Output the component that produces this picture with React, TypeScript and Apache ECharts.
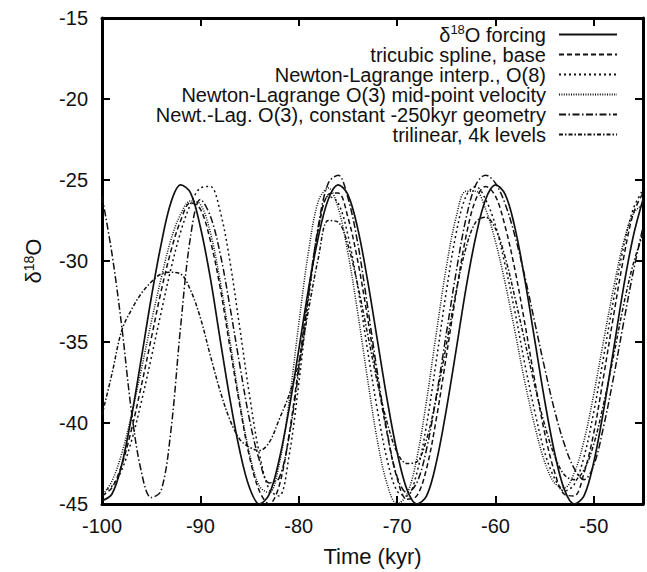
import React, { useEffect, useRef } from "react";
import * as echarts from "echarts";

const time = [
  -100, -99, -98, -97, -96, -95, -94, -93, -92, -91, -90, -89, -88, -87, -86, -85, -84, -83, -82, -81,
  -80, -79, -78, -77, -76, -75, -74, -73, -72, -71, -70, -69, -68, -67, -66, -65, -64, -63, -62, -61,
  -60, -59, -58, -57, -56, -55, -54, -53, -52, -51, -50, -49, -48, -47, -46, -45,
];

const forcing = [
  -44.8, -44.4, -42.6, -39.6, -36.0, -32.3, -29.0, -26.4, -25.3, -25.8, -27.9, -31.0, -34.8, -38.5, -41.7, -44.0, -45.0, -44.4, -42.3, -39.2,
  -35.5, -31.7, -28.5, -26.2, -25.3, -25.9, -28.0, -31.2, -34.9, -38.6, -41.8, -44.1, -45.0, -44.5, -42.4, -39.2, -35.5, -31.7, -28.5, -26.2,
  -25.3, -25.9, -28.0, -31.2, -34.9, -38.6, -41.8, -44.1, -45.0, -44.5, -42.4, -39.2, -35.5, -31.7, -28.5, -26.2,
];

const tricubic = [
  -44.5, -44.0, -42.6, -40.4, -37.7, -34.8, -31.9, -29.4, -27.5, -26.4, -26.8, -28.7, -31.6, -35.3, -38.9, -42.1, -44.2, -45.0, -43.9, -40.8,
  -36.5, -31.9, -28.0, -25.9, -25.8, -27.3, -30.0, -33.5, -37.3, -40.7, -43.4, -44.7, -44.5, -42.8, -39.7, -35.9, -32.0, -28.5, -26.2, -25.4,
  -26.0, -27.9, -30.6, -33.9, -37.4, -40.6, -43.0, -44.4, -44.5, -43.1, -40.6, -37.1, -33.4, -29.9, -27.1, -25.8,
];

const nlO8 = [
  -44.2, -43.9, -42.9, -41.1, -38.7, -36.0, -33.2, -30.5, -28.2, -26.5, -25.5, -25.4, -26.9, -30.0, -34.1, -38.3, -41.9, -44.1, -44.5, -42.1,
  -37.6, -32.4, -28.0, -26.0, -26.4, -28.4, -31.6, -35.5, -39.2, -42.3, -44.2, -44.5, -43.1, -40.1, -36.1, -31.9, -28.3, -26.0, -25.4, -26.2,
  -27.8, -30.3, -33.2, -36.4, -39.3, -41.8, -43.4, -44.2, -43.8, -42.1, -39.3, -35.9, -32.4, -29.2, -26.8, -25.6,
];

const nlO3mid = [
  -44.5, -43.6, -41.9, -39.5, -36.7, -33.8, -31.1, -28.7, -27.1, -26.3, -26.5, -28.2, -31.2, -34.9, -38.7, -41.9, -43.9, -44.3, -42.6, -38.8,
  -33.9, -29.4, -26.3, -25.5, -26.7, -29.5, -33.2, -37.3, -41.1, -43.8, -45.0, -44.4, -42.2, -38.6, -34.4, -30.4, -27.3, -25.7, -25.7, -26.8,
  -28.8, -31.4, -34.4, -37.5, -40.2, -42.4, -43.7, -44.0, -43.1, -41.1, -38.2, -34.9, -31.7, -28.9, -27.1, -26.5,
];

const constGeom = [
  -26.0, -29.5, -34.0, -39.3, -43.0, -44.6, -44.2, -40.5, -34.0, -28.5, -26.2, -27.2, -29.5, -32.8, -36.4, -39.8, -42.3, -43.7, -43.4, -40.9,
  -36.8, -32.1, -27.8, -25.2, -24.7, -26.1, -28.9, -32.8, -36.9, -40.6, -43.3, -44.3, -43.7, -41.6, -38.3, -34.5, -30.7, -27.4, -25.3, -24.7,
  -25.2, -26.5, -28.5, -31.0, -33.8, -36.6, -39.2, -41.3, -42.8, -43.5, -42.6, -40.2, -37.2, -33.9, -30.7, -27.9,
];

const trilinear = [
  -39.5, -37.0, -34.3, -33.0, -32.0, -31.3, -30.8, -30.7, -30.8, -31.8, -33.5, -35.8, -38.0, -39.8, -41.0, -41.5, -41.7, -41.2, -39.8, -38.3,
  -36.3, -33.0, -29.8, -27.5, -27.6, -29.0, -31.5, -34.5, -37.5, -40.0, -41.8, -42.5, -42.4, -41.0, -38.4, -35.2, -31.9, -29.2, -27.6, -27.3,
  -28.0, -29.8, -32.3, -35.0, -37.7, -40.1, -42.0, -43.2, -43.5, -42.9, -41.3, -38.8, -35.9, -32.8, -30.2, -28.3,
];

const seriesNames = [
  "δ18O forcing",
  "tricubic spline, base",
  "Newton-Lagrange interp., O(8)",
  "Newton-Lagrange O(3) mid-point velocity",
  "Newt.-Lag. O(3), constant -250kyr geometry",
  "trilinear, 4k levels",
];
const seriesValues = [forcing, tricubic, nlO8, nlO3mid, constGeom, trilinear];
const dashStyles: any[] = ["solid", [5, 3], [2, 3], [1, 1.4], [7, 2.5, 1.5, 2.5], [4, 2, 1.5, 2]];

const FONT = "'Liberation Sans', Arial, Helvetica, sans-serif";

export default function App() {
  const ref = useRef<HTMLDivElement>(null);
  useEffect(() => {
    if (!ref.current) return;
    const chart = echarts.init(ref.current, null, { renderer: "svg" });
    const axisLine = { show: true, lineStyle: { color: "#000", width: 3 } };
    const axisTick = { show: true, inside: true, length: 8, lineStyle: { color: "#000", width: 2 } };
    const legendRich = {
      t: { fontSize: 20, lineHeight: 23, fontFamily: FONT, color: "#111" },
      s: { fontSize: 13, lineHeight: 13, fontFamily: FONT, color: "#111", verticalAlign: "top" },
      g: { width: 8, fontSize: 20, lineHeight: 23 },
    };
    const nameRich = {
      t: { fontSize: 22, lineHeight: 22, fontFamily: FONT, color: "#111" },
      s: { fontSize: 14, lineHeight: 14, fontFamily: FONT, color: "#111", verticalAlign: "top" },
    };
    const option: any = {
      animation: false,
      backgroundColor: "#fff",
      grid: { left: 102, right: 4, top: 18, bottom: 67, show: false },
      legend: {
        data: seriesNames,
        orient: "vertical",
        right: 29,
        top: 23,
        align: "right",
        padding: 0,
        itemWidth: 58,
        itemHeight: 12,
        itemGap: 0,
        selectedMode: false,
        itemStyle: { opacity: 0, color: "rgba(0,0,0,0)", borderWidth: 0 },
        textStyle: { fontSize: 20, fontFamily: FONT, color: "#111", rich: legendRich },
        formatter: (name: string) =>
          name === seriesNames[0] ? "{t|δ}{s|18}{t|O forcing}{g| }" : `{t|${name}}{g| }`,
      },
      xAxis: [
        {
          type: "value",
          min: -100,
          max: -45,
          interval: 10,
          position: "bottom",
          axisLine,
          axisTick,
          splitLine: { show: false },
          axisLabel: { fontSize: 20, fontFamily: FONT, color: "#111", margin: 12, showMaxLabel: false },
          name: "Time (kyr)",
          nameLocation: "middle",
          nameGap: 41,
          nameTextStyle: { fontSize: 22, fontFamily: FONT, color: "#111" },
        },
        {
          type: "value",
          min: -100,
          max: -45,
          interval: 10,
          position: "top",
          axisLine,
          axisTick,
          splitLine: { show: false },
          axisLabel: { show: false },
        },
      ],
      yAxis: [
        {
          type: "value",
          min: -45,
          max: -15,
          interval: 5,
          position: "left",
          axisLine,
          axisTick,
          splitLine: { show: false },
          axisLabel: { fontSize: 20, fontFamily: FONT, color: "#111", margin: 14 },
          name: "{t|δ}{s|18}{t|O}",
          nameLocation: "middle",
          nameRotate: 90,
          nameGap: 58,
          nameTextStyle: { fontSize: 22, fontFamily: FONT, color: "#111", rich: nameRich },
        },
        {
          type: "value",
          min: -45,
          max: -15,
          interval: 5,
          position: "right",
          axisLine,
          axisTick,
          splitLine: { show: false },
          axisLabel: { show: false },
        },
      ],
      series: seriesNames.map((name, i) => ({
        name,
        type: "line",
        xAxisIndex: 0,
        yAxisIndex: 0,
        smooth: 0.35,
        symbol: "none",
        clip: true,
        data: time.map((t, j) => [t, seriesValues[i][j]]),
        lineStyle: { color: "#111", width: i === 0 ? 1.7 : 1.5, type: dashStyles[i] },
        itemStyle: { color: "#111" },
        z: 10 - i,
      })),
    };
    chart.setOption(option);
    return () => chart.dispose();
  }, []);
  return (
    <div
      ref={ref}
      style={{ position: "absolute", left: 0, top: 0, width: 647, height: 572, background: "#fff" }}
    />
  );
}
